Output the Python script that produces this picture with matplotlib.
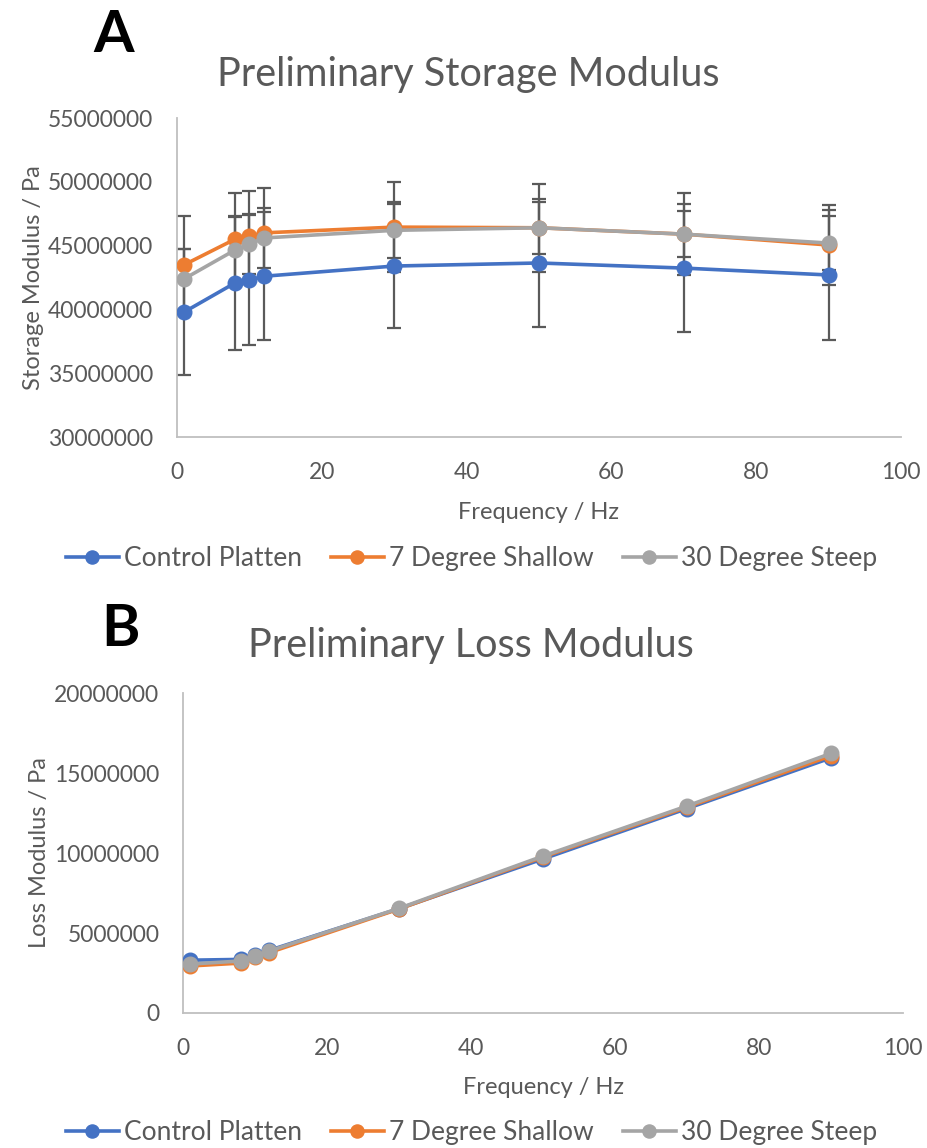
import numpy as np
import matplotlib
matplotlib.use('Agg')
import matplotlib.pyplot as plt

plt.rcParams['font.family'] = ['Lato', 'DejaVu Sans']

# frequency points (Hz)
freq = [1, 8, 10, 12, 30, 50, 70, 90]

# storage modulus (Pa) and error bars
storage_control = [39.8e6, 42.07e6, 42.3e6, 42.6e6, 43.4e6, 43.64e6, 43.24e6, 42.7e6]
storage_shallow = [43.5e6, 45.5e6, 45.75e6, 46.0e6, 46.45e6, 46.4e6, 45.9e6, 45.05e6]
storage_steep = [42.4e6, 44.65e6, 45.1e6, 45.6e6, 46.2e6, 46.4e6, 45.9e6, 45.2e6]
err_control = [4.94e6, 5.25e6, 5.1e6, 5.0e6, 4.86e6, 5.0e6, 5.0e6, 5.1e6]
err_shallow = [3.84e6, 3.6e6, 3.53e6, 3.53e6, 3.53e6, 3.45e6, 3.2e6, 3.1e6]
err_steep = [2.35e6, 2.6e6, 2.35e6, 2.35e6, 2.2e6, 2.05e6, 1.8e6, 2.1e6]

# loss modulus (Pa)
loss_control = [3.3e6, 3.35e6, 3.62e6, 3.92e6, 6.52e6, 9.63e6, 12.78e6, 15.95e6]
loss_shallow = [2.94e6, 3.12e6, 3.48e6, 3.78e6, 6.5e6, 9.75e6, 12.87e6, 16.08e6]
loss_steep = [3.06e6, 3.25e6, 3.56e6, 3.88e6, 6.54e6, 9.81e6, 12.94e6, 16.23e6]

labels = ['Control Platten', '7 Degree Shallow', '30 Degree Steep']
colors = ['#4472C4', '#ED7D31', '#A5A5A5']
txt = '#595959'
axcol = '#BFBFBF'

fig = plt.figure(figsize=(9.28, 11.48), dpi=100)


def style_axes(ax, ylim, yticks):
  ax.set_xlim(0, 100)
  ax.set_ylim(*ylim)
  ax.set_xticks(range(0, 101, 20))
  ax.set_yticks(yticks)
  ax.set_yticklabels([str(int(v)) for v in yticks])
  for s in ['top', 'right']:
    ax.spines[s].set_visible(False)
  for s in ['left', 'bottom']:
    ax.spines[s].set_color(axcol)
    ax.spines[s].set_linewidth(1.3)
  ax.tick_params(length=0, labelsize=16.5, labelcolor=txt)
  ax.tick_params(axis='y', pad=17)
  ax.tick_params(axis='x', pad=18)


def add_legend(ax, ypos):
  h, l = ax.get_legend_handles_labels()
  fig.legend(h, l, loc='center', bbox_to_anchor=(0.508, ypos), ncol=3,
             frameon=False, fontsize=19, labelcolor=txt, handlelength=2.0,
             handletextpad=0.2, columnspacing=1.1, markerscale=0.9)


# ---- A: storage modulus
ax1 = fig.add_axes([0.1907, 0.6193, 0.7802, 0.2779])
series = [storage_control, storage_shallow, storage_steep]
errs = [err_control, err_shallow, err_steep]
for y, e in zip(series, errs):
  ax1.errorbar(freq, y, yerr=e, fmt='none', ecolor='#5A5A5A', elinewidth=1.6,
               capsize=5, capthick=1.6, zorder=1)
for y, c, lab in zip(series, colors, labels):
  ax1.plot(freq, y, color=c, lw=2.6, marker='o', ms=10.5, label=lab, zorder=3)
style_axes(ax1, (30e6, 55e6), np.arange(30e6, 55e6 + 1, 5e6))
ax1.set_xlabel('Frequency / Hz', fontsize=17, color=txt, labelpad=14)
ax1.set_ylabel('Storage Modulus / Pa', fontsize=17, color=txt, labelpad=3)
fig.text(0.505, 0.935, 'Preliminary Storage Modulus', ha='center', va='center',
         fontsize=28.5, color=txt)
fig.text(0.122, 0.969, 'A', ha='center', va='center', fontsize=42,
         fontweight='bold', color='black')
add_legend(ax1, 0.5135)

# ---- B: loss modulus
ax2 = fig.add_axes([0.1972, 0.1176, 0.7759, 0.2787])
series = [loss_control, loss_shallow, loss_steep]
for y, c, lab in zip(series, colors, labels):
  ax2.plot(freq, y, color=c, lw=2.6, marker='o', ms=10.5, label=lab, zorder=3)
style_axes(ax2, (0, 20e6), np.arange(0, 20e6 + 1, 5e6))
ax2.set_xlabel('Frequency / Hz', fontsize=17, color=txt, labelpad=13)
ax2.set_ylabel('Loss Modulus / Pa', fontsize=17, color=txt, labelpad=3)
fig.text(0.507, 0.4375, 'Preliminary Loss Modulus', ha='center', va='center',
         fontsize=28.5, color=txt)
fig.text(0.13, 0.452, 'B', ha='center', va='center', fontsize=42,
         fontweight='bold', color='black')
add_legend(ax2, 0.0135)

fig.savefig('out.png', dpi=100)
